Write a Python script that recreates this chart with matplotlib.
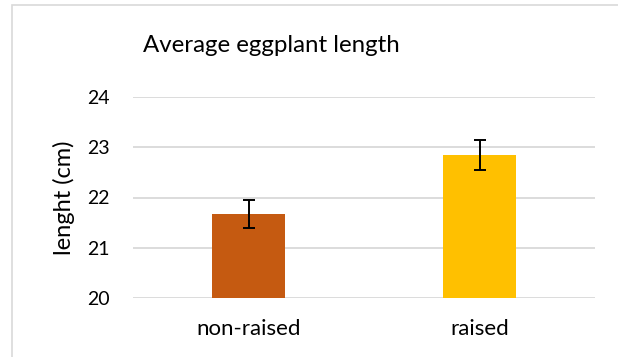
import numpy as np
import matplotlib.pyplot as plt
from matplotlib.patches import Rectangle

# data
categories = ['non-raised', 'raised']
means = [21.68, 22.84]
errors = [0.28, 0.30]
colors = ['#C55A11', '#FFC000']
yticks = [20, 21, 22, 23, 24]

plt.rcParams['font.family'] = ['Lato', 'DejaVu Sans']

W, H = 618, 357
fig = plt.figure(figsize=(W / 100, H / 100), dpi=100)

# light frame around chart area (Excel chart border)
fig.patches.append(Rectangle((12 / W, -0.1), 1.2, 1 - 5 / H + 0.1, transform=fig.transFigure,
                             fill=False, edgecolor='#D9D9D9', linewidth=1.2))

ax = fig.add_axes([133 / W, 1 - 297.7 / H, (595 - 133) / W, (297.7 - 97.3) / H])

x = np.arange(len(categories))
ax.bar(x, means, width=0.316, color=colors, zorder=3)
ax.errorbar(x, means, yerr=errors, fmt='none', ecolor='black',
            elinewidth=1.4, capsize=4.5, capthick=1.4, zorder=4)

ax.set_xlim(-0.5, 1.5)
ax.set_ylim(20, 24)
ax.set_yticks(yticks)
ax.set_xticks(x)
ax.set_xticklabels(categories, fontsize=16)
ax.tick_params(axis='y', labelsize=14, length=0, pad=16.5)
ax.tick_params(axis='x', length=0, pad=15)
ax.yaxis.grid(True, color='#D9D9D9', linewidth=1.3, zorder=0)
ax.set_axisbelow(True)
for s in ax.spines.values():
    s.set_visible(False)

ax.set_ylabel('lenght (cm)', fontsize=17, labelpad=9)
fig.text(0.5 * (143 + 400) / W, 1 - 46 / H, 'Average eggplant length', fontsize=17.3,
         ha='center', va='center')

fig.savefig('out.png', dpi=100)
